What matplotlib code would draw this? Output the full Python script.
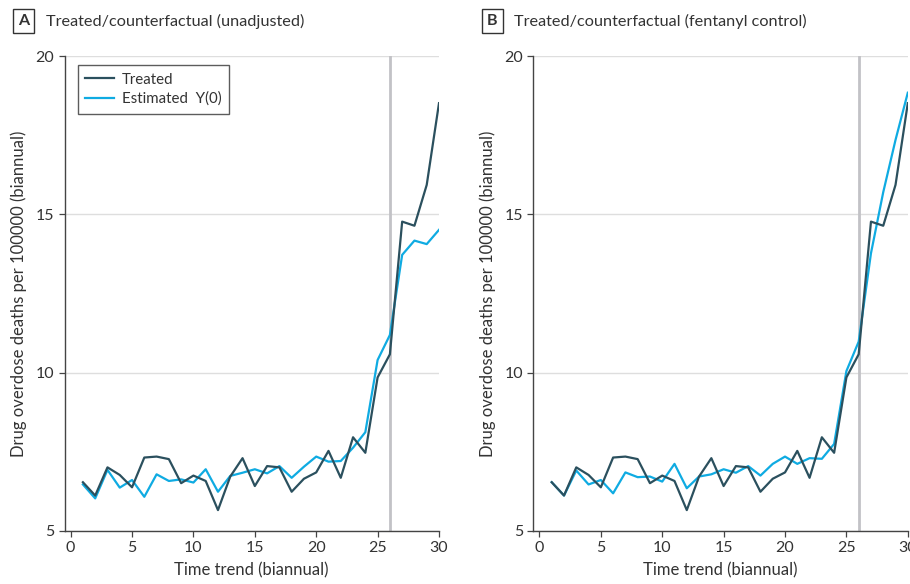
import numpy as np
import matplotlib.pyplot as plt

plt.rcParams["font.family"] = ["Lato", "DejaVu Sans"]

# Biannual periods
periods = list(range(1, 31))

# Observed deaths per 100000 in the treated unit
treated = [6.54, 6.12, 7.01, 6.77, 6.38, 7.32, 7.35, 7.27, 6.51, 6.75,
           6.58, 5.66, 6.72, 7.30, 6.42, 7.05, 7.01, 6.24, 6.65, 6.85,
           7.53, 6.68, 7.96, 7.47, 9.85, 10.58, 14.77, 14.64, 15.93, 18.51]

# Counterfactual, no adjustment
est_unadjusted = [6.47, 6.03, 6.93, 6.37, 6.61, 6.08, 6.79, 6.58, 6.63, 6.53,
                  6.95, 6.24, 6.74, 6.84, 6.95, 6.82, 7.05, 6.68, 7.03, 7.35,
                  7.19, 7.21, 7.63, 8.12, 10.40, 11.19, 13.72, 14.17, 14.06, 14.51]

# Counterfactual with fentanyl control
est_fentanyl = [6.54, 6.12, 6.91, 6.47, 6.61, 6.19, 6.85, 6.70, 6.72, 6.56,
                7.12, 6.35, 6.72, 6.79, 6.95, 6.84, 7.05, 6.75, 7.12, 7.35,
                7.12, 7.30, 7.28, 7.75, 10.05, 10.98, 13.77, 15.70, 17.35, 18.84]

intervention = 26
panels = [
    ("A", "Treated/counterfactual (unadjusted)", est_unadjusted),
    ("B", "Treated/counterfactual (fentanyl control)", est_fentanyl),
]

W, H = 910, 584
fig = plt.figure(figsize=(W / 100, H / 100), dpi=100)

dark = "#2b505e"
cyan = "#0fabe2"
text_col = "#333333"
lefts = [64.5, 533.3]
width = 374.5

for (letter, title, est), left in zip(panels, lefts):
    ax = fig.add_axes([left / W, 1 - 531 / H, width / W, (531 - 56) / H])
    ax.axvline(intervention, color="#c2c2c6", lw=2.0, zorder=1)
    ax.plot(periods, est, color=cyan, lw=1.6, label="Estimated  Y(0)", zorder=3)
    ax.plot(periods, treated, color=dark, lw=1.6, label="Treated", zorder=4)

    ax.set_xlim(-0.5, 30)
    ax.set_ylim(5, 20)
    ax.set_xticks([0, 5, 10, 15, 20, 25, 30])
    ax.set_yticks([5, 10, 15, 20])
    ax.grid(axis="y", color="#dedede", lw=1.0, zorder=0)
    ax.set_axisbelow(True)
    for s in ["top", "right"]:
        ax.spines[s].set_visible(False)
    for s in ["left", "bottom"]:
        ax.spines[s].set_color("#444444")
        ax.spines[s].set_linewidth(1.0)
    ax.tick_params(colors="#444444", labelcolor=text_col, labelsize=11.5,
                   length=4, width=0.9, direction="out")
    ax.set_xlabel("Time trend (biannual)", fontsize=12, color=text_col, labelpad=5)
    ax.set_ylabel("Drug overdose deaths per 100000 (biannual)", fontsize=12,
                  color=text_col, labelpad=6)

    if letter == "A":
        h, l = ax.get_legend_handles_labels()
        leg = ax.legend(h[::-1], l[::-1], loc="upper left",
                        bbox_to_anchor=(0.036, 0.981), borderaxespad=0,
                        fontsize=10.8, frameon=True, fancybox=False,
                        handlelength=1.9, borderpad=0.5, labelspacing=0.35,
                        handletextpad=0.55)
        leg.get_frame().set_edgecolor("#333333")
        leg.get_frame().set_linewidth(1.0)
        for t in leg.get_texts():
            t.set_color(text_col)

    # Panel letter in a box, then the panel title
    fx = (left - 41) / W
    fig.text(fx, 1 - 21 / H, letter, fontsize=11.5, fontweight="bold",
             color=text_col, ha="center", va="center",
             bbox=dict(boxstyle="square,pad=0.32", fc="white", ec="#333333", lw=1.0))
    fig.text(fx + 22 / W, 1 - 21 / H, title, fontsize=11.7, color=text_col,
             ha="left", va="center")

fig.savefig("out.png", dpi=100)
